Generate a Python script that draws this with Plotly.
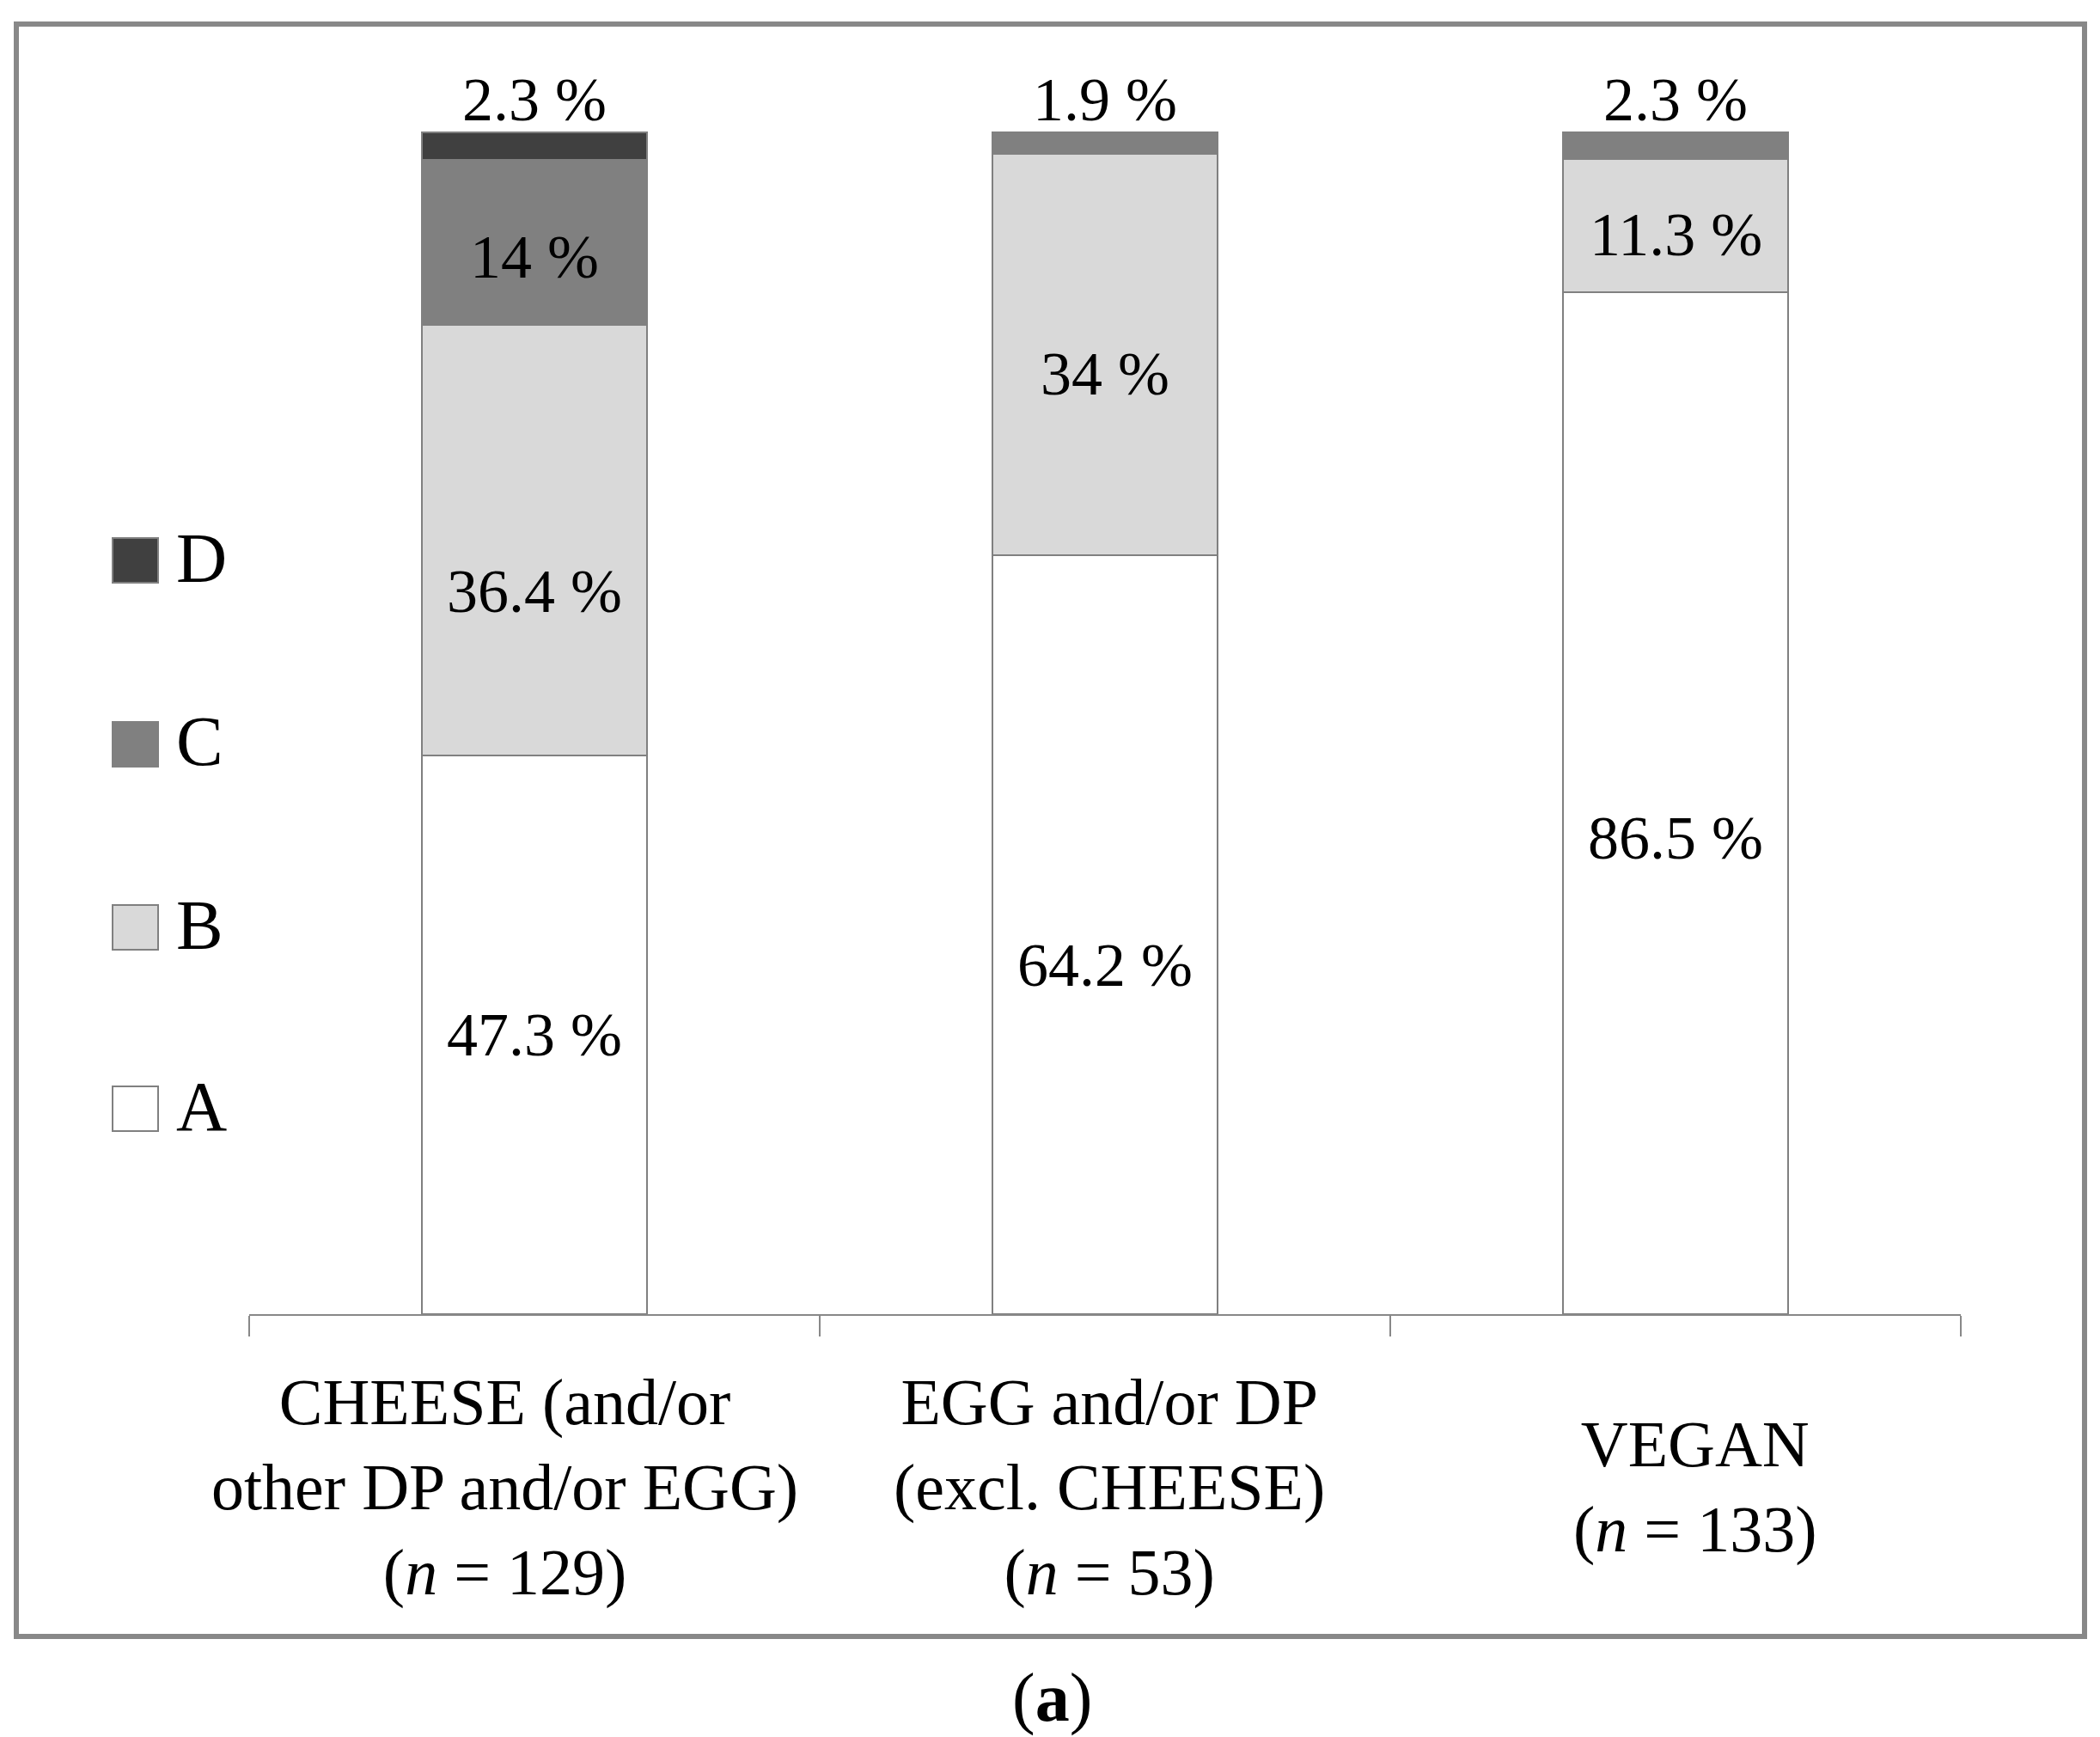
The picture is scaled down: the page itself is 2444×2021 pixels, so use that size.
import plotly.graph_objects as go

# ---------------- data ----------------
categories = ["CHEESE", "EGG/DP", "VEGAN"]
tick_labels = [
    "CHEESE (and/or<br>other DP and/or EGG)<br>(<i>n</i> = 129)",
    "EGG and/or DP<br>(excl. CHEESE)<br>(<i>n</i> = 53)",
    "VEGAN<br>(<i>n</i> = 133)",
]
series_names = ["A", "B", "C", "D"]
A_values = [47.3, 64.2, 86.5]
B_values = [36.4, 34.0, 11.3]
C_values = [14.0, 1.9, 2.3]
D_values = [2.3, None, None]
panel_label = "(<b>a</b>)"

series_values = [A_values, B_values, C_values, D_values]

# ---------------- style ----------------
W, H = 2444, 2021
L, R, T, B = 290, 162, 153, 2021 - 1529
PW, PH = W - L - R, H - T - B
FONT = "Liberation Serif"
fill_colors = {"A": "#ffffff", "B": "#d9d9d9", "C": "#808080", "D": "#404040"}
edge = "#808080"
# label nudges in pixels (downwards), per series and category
label_dy = {"A": [0, 35, 41], "B": [59, 22, 11], "C": [17, 0, 0], "D": [0, 0, 0]}
cat_xshift = [-35, 5, 22]


def px_x(p):
    return (p - L) / PW


def px_y(p):
    return (H - B - p) / PH


fig = go.Figure()
for name, vals in zip(series_names, series_values):
    fig.add_trace(go.Bar(
        x=categories, y=vals, name=name, width=0.395,
        marker=dict(color=fill_colors[name], line=dict(color=edge, width=2)),
        showlegend=False, hoverinfo="skip",
    ))

annotations = []
# value labels
for ci, cat in enumerate(categories):
    base = 0.0
    present = [(n, v[ci]) for n, v in zip(series_names, series_values) if v[ci]]
    for k, (name, val) in enumerate(present):
        top = k == len(present) - 1
        if top:
            annotations.append(dict(x=cat, y=min(base + val, 100), xref="x", yref="y",
                                    text=f"{val:g} %", showarrow=False,
                                    yanchor="middle", yshift=38,
                                    font=dict(family=FONT, size=72, color="black")))
        else:
            annotations.append(dict(x=cat, y=base + val / 2, xref="x", yref="y",
                                    text=f"{val:g} %", showarrow=False,
                                    yanchor="middle",
                                    yshift=-label_dy[name][ci],
                                    font=dict(family=FONT, size=72, color="black")))
        base += val

# category labels
for ci, (cat, lab) in enumerate(zip(categories, tick_labels)):
    annotations.append(dict(x=cat, y=0, xref="x", yref="y", text=lab,
                            showarrow=False, yanchor="middle", yshift=-201,
                            xshift=cat_xshift[ci],
                            font=dict(family=FONT, size=76, color="black")))

# manual legend (D at top)
shapes = []
legend_centers = {"D": 652, "C": 866, "B": 1079, "A": 1290}
for name in series_names:
    cy = legend_centers[name]
    shapes.append(dict(type="rect", xref="paper", yref="paper",
                       x0=px_x(131), x1=px_x(184), y0=px_y(cy + 26), y1=px_y(cy - 26),
                       fillcolor=fill_colors[name], line=dict(color=edge, width=2)))
    annotations.append(dict(x=px_x(203), y=px_y(cy - 3), xref="paper", yref="paper",
                            text=name, showarrow=False, xanchor="left", yanchor="middle",
                            font=dict(family=FONT, size=82, color="black")))

# outer frame
shapes.append(dict(type="rect", xref="paper", yref="paper",
                   x0=px_x(19), x1=px_x(2426), y0=px_y(1904), y1=px_y(28),
                   line=dict(color="#888888", width=6), fillcolor="rgba(0,0,0,0)",
                   layer="below"))

annotations.append(dict(x=px_x(1224), y=px_y(1975), xref="paper", yref="paper",
                        text=panel_label, showarrow=False, xanchor="center",
                        yanchor="middle",
                        font=dict(family=FONT, size=80, color="black")))

fig.update_layout(
    width=W, height=H, barmode="stack",
    margin=dict(l=L, r=R, t=T, b=B, pad=0),
    paper_bgcolor="white", plot_bgcolor="white",
    shapes=shapes, annotations=annotations,
    font=dict(family=FONT, color="black"),
    xaxis=dict(range=[-0.5, 2.5], showline=True, linecolor="#888888", linewidth=2,
               ticks="outside", tickson="boundaries", ticklen=24,
               tickcolor="#888888", tickwidth=2, showticklabels=False,
               showgrid=False, zeroline=False, fixedrange=True),
    yaxis=dict(range=[0, 100.1], visible=False, showgrid=False,
               zeroline=False, fixedrange=True),
)

fig.write_html("out.html", config={"displayModeBar": False},
               post_script="document.body.style.margin='0';")
